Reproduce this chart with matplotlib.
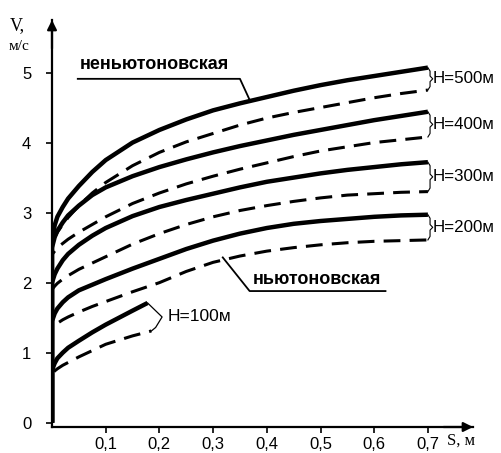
import matplotlib
matplotlib.use("Agg")
import matplotlib.pyplot as plt
import numpy as np

# ---------------- data ----------------
S_grid = [0, 0, 0.005, 0.01, 0.02, 0.03, 0.05, 0.075, 0.1, 0.15, 0.2, 0.25,
          0.3, 0.35, 0.4, 0.45, 0.5, 0.55, 0.6, 0.65, 0.7]

v500_non = [0, 2.6, 2.82, 2.94, 3.08, 3.2, 3.38, 3.58, 3.75, 4.0, 4.18, 4.33,
            4.46, 4.56, 4.65, 4.74, 4.82, 4.89, 4.95, 5.01, 5.07]
v500_newt = [0, 2.55, 2.65, 2.72, 2.83, 2.93, 3.1, 3.28, 3.43, 3.67, 3.86, 4.01,
             4.13, 4.25, 4.35, 4.43, 4.5, 4.57, 4.64, 4.7, 4.75]
v400_non = [0, 2.5, 2.65, 2.74, 2.86, 2.96, 3.1, 3.25, 3.36, 3.52, 3.65, 3.76,
            3.86, 3.95, 4.03, 4.11, 4.18, 4.25, 4.32, 4.38, 4.44]
v400_newt = [0, 2.4, 2.45, 2.5, 2.56, 2.62, 2.72, 2.83, 2.94, 3.13, 3.28, 3.41,
             3.52, 3.62, 3.71, 3.8, 3.88, 3.94, 4.0, 4.04, 4.08]
v300_non = [0, 2.0, 2.12, 2.2, 2.32, 2.41, 2.54, 2.67, 2.78, 2.95, 3.08, 3.18,
            3.27, 3.36, 3.44, 3.5, 3.56, 3.61, 3.65, 3.69, 3.72]
v300_newt = [0, 1.9, 1.95, 1.99, 2.05, 2.1, 2.19, 2.28, 2.37, 2.55, 2.7, 2.83,
             2.94, 3.03, 3.1, 3.16, 3.21, 3.25, 3.27, 3.29, 3.3]
v200_non = [0, 1.45, 1.56, 1.63, 1.72, 1.79, 1.89, 1.97, 2.05, 2.2, 2.34, 2.48,
            2.6, 2.7, 2.78, 2.84, 2.88, 2.91, 2.94, 2.96, 2.97]
v200_newt = [0, 1.35, 1.39, 1.42, 1.47, 1.51, 1.58, 1.66, 1.73, 1.87, 2.0, 2.16,
             2.29, 2.38, 2.45, 2.5, 2.54, 2.57, 2.59, 2.6, 2.61]

S100_non = [0, 0, 0.005, 0.01, 0.02, 0.03, 0.05, 0.075, 0.1, 0.125, 0.15, 0.178]
v100_non = [0, 0.75, 0.85, 0.92, 1.0, 1.07, 1.17, 1.29, 1.4, 1.5, 1.6, 1.71]
S100_newt = [0, 0, 0.005, 0.01, 0.02, 0.03, 0.05, 0.075, 0.1, 0.125, 0.15, 0.185]
v100_newt = [0, 0.7, 0.74, 0.77, 0.82, 0.86, 0.94, 1.03, 1.12, 1.18, 1.24, 1.31]

pairs = [("H=500м", v500_non, v500_newt),
         ("H=400м", v400_non, v400_newt),
         ("H=300м", v300_non, v300_newt),
         ("H=200м", v200_non, v200_newt)]

x_ticks = [0.1, 0.2, 0.3, 0.4, 0.5, 0.6, 0.7]
x_ticklabels = ["0,1", "0,2", "0,3", "0,4", "0,5", "0,6", "0,7"]
y_ticks = [0, 1, 2, 3, 4, 5]
y_ticklabels = ["0", "1", "2", "3", "4", "5"]

# ---------------- figure ----------------
W, H = 501, 453
fig = plt.figure(figsize=(W / 100, H / 100), dpi=100)
fig.patch.set_facecolor("white")
ax = fig.add_axes([52 / W, 26 / H, 421 / W, 407 / H])
ax.set_xlim(0, 421 / 537)
ax.set_ylim(-0.061, 5.75)

sans = "Liberation Sans"
serif = "Liberation Serif"

solid_kw = dict(color="black", lw=3.2, solid_capstyle="butt", solid_joinstyle="round")
dash_kw = dict(color="black", lw=2.2, dashes=(5.5, 3.0))

for lab, vn, vw in pairs:
    ax.plot(S_grid, vw, **dash_kw)
    ax.plot(S_grid, vn, **solid_kw)
    # brace
    s_end = S_grid[-1]
    top, bot = vn[-1], vw[-1]
    mid = (top + bot) / 2
    bx = [s_end, s_end + 0.004, s_end + 0.004, s_end + 0.009, s_end + 0.004,
          s_end + 0.004, s_end]
    by = [top, top - 0.05, mid + 0.04, mid, mid - 0.04, bot + 0.05, bot]
    ax.plot(bx, by, color="black", lw=0.8)
    ax.text(s_end + 0.0095, mid, lab, fontsize=12.2, family=sans,
            ha="left", va="center")

ax.plot(S100_newt, v100_newt, **dash_kw)
ax.plot(S100_non, v100_non, **solid_kw)
t, b = v100_non[-1], v100_newt[-1]
m = (t + b) / 2
bx = [S100_non[-1], S100_newt[-1] + 0.02, S100_newt[-1] + 0.008, S100_newt[-1]]
by = [t, m, b + 0.05, b]
ax.plot(bx, by, color="black", lw=0.9)
ax.text(S100_newt[-1] + 0.03, m, "H=100м", fontsize=12.5, family=sans,
        ha="left", va="center")

# leader labels
ax.text(0.19, 5.0, "неньютоновская", fontsize=13, family=sans,
        fontweight="bold", ha="center", va="bottom")
ax.plot([0.048, 0.35, 0.368], [4.91, 4.91, v500_non[13] + 0.05],
        color="black", lw=1.3)
ax.text(0.494, 1.93, "ньютоновская", fontsize=13, family=sans,
        fontweight="bold", ha="center", va="bottom")
ax.plot([0.318, 0.368, 0.621], [2.36, 1.88, 1.88], color="black", lw=1.3)

# axes styling
for sp in ["top", "right"]:
    ax.spines[sp].set_visible(False)
for sp in ["left", "bottom"]:
    ax.spines[sp].set_linewidth(1.6)
ax.set_xticks(x_ticks)
ax.set_xticklabels(x_ticklabels, fontsize=12, family=sans)
ax.set_yticks(y_ticks)
ax.set_yticklabels(y_ticklabels, fontsize=12, family=sans)
ax.tick_params(axis="x", direction="out", length=4, width=1.2, pad=3)
ax.tick_params(axis="y", direction="out", length=4, width=1.2, pad=11)

ax.annotate("", xy=(0, 1.0), xytext=(0, 0.93), xycoords="axes fraction",
            arrowprops=dict(arrowstyle="-|>", color="black", lw=1.6,
                            mutation_scale=14, shrinkA=0, shrinkB=0))
ax.annotate("", xy=(1.0, 0), xytext=(0.93, 0), xycoords="axes fraction",
            arrowprops=dict(arrowstyle="-|>", color="black", lw=1.6,
                            mutation_scale=14, shrinkA=0, shrinkB=0))

fig.text(10 / W, 1 - 26 / H, "V,", fontsize=13, family=serif,
         ha="left", va="center")
fig.text(9 / W, 1 - 47 / H, "м/с", fontsize=11, family=serif,
         ha="left", va="center")
fig.text(447 / W, 1 - 441 / H, "S, м", fontsize=12, family=serif,
         ha="left", va="center")

fig.savefig("out.png", dpi=100, facecolor="white")
